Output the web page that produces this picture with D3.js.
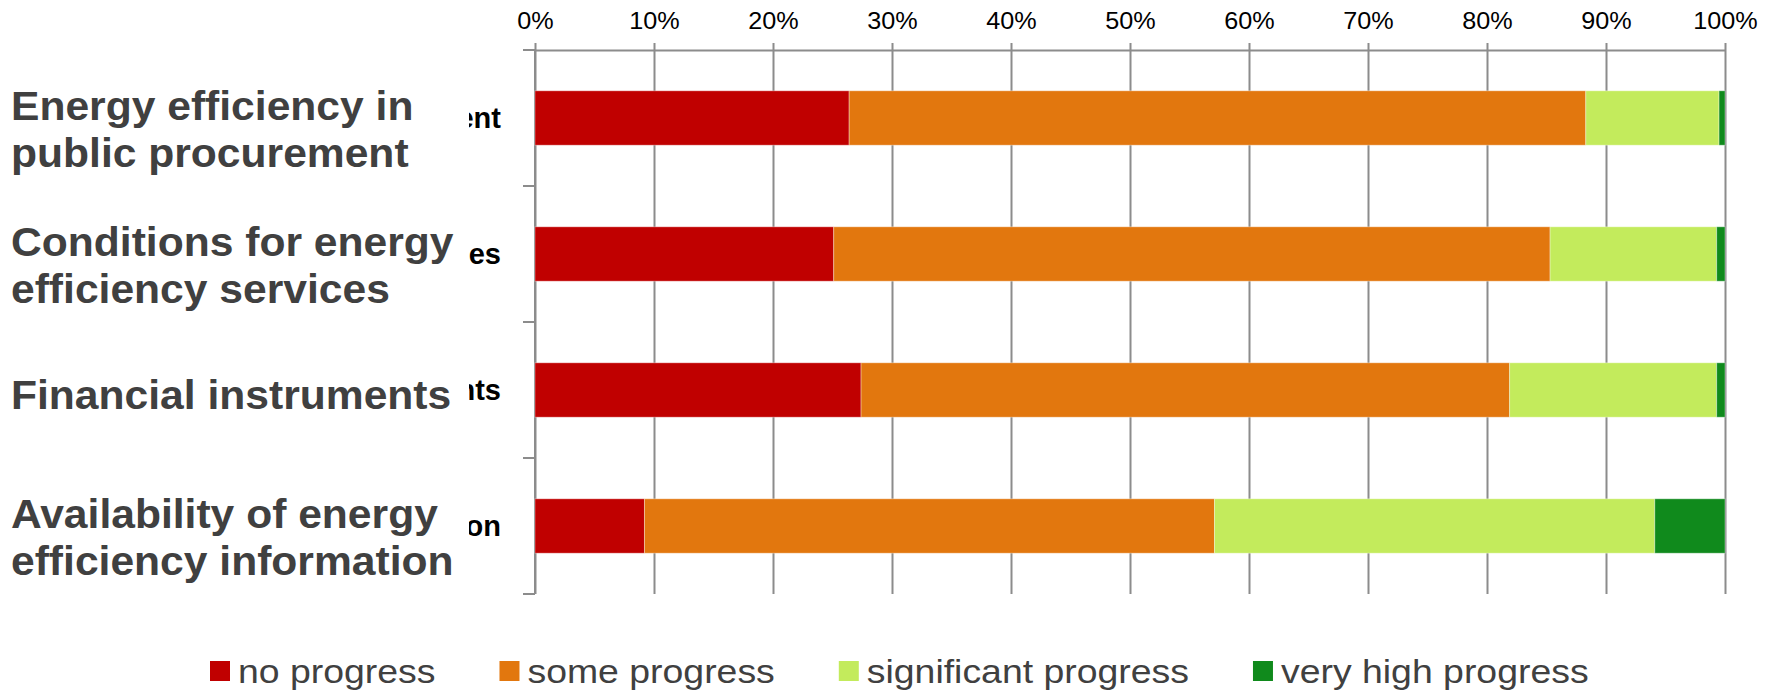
<!DOCTYPE html>
<html>
<head>
<meta charset="utf-8">
<script src="https://cdn.jsdelivr.net/npm/d3@7"></script>
<style>
  html, body { margin: 0; padding: 0; background: #fff; }
  svg { display: block; }
</style>
</head>
<body>
<script>
// ---------- data ----------
const categories = [
  "Energy efficiency in public procurement",
  "Conditions for energy efficiency services",
  "Financial instruments",
  "Availability of energy efficiency information"
];
const overlayLabels = [
  ["Energy efficiency in", "public procurement"],
  ["Conditions for energy", "efficiency services"],
  ["Financial instruments"],
  ["Availability of energy", "efficiency information"]
];
const seriesNames = ["no progress", "some progress", "significant progress", "very high progress"];
const noProgress          = [26.4, 25.1, 27.4, 9.2];
const someProgress        = [61.9, 60.2, 54.5, 47.9];
const significantProgress = [11.2, 14.0, 17.4, 37.0];
const veryHighProgress    = [0.5, 0.7, 0.7, 5.9];
const tickValues = [0, 10, 20, 30, 40, 50, 60, 70, 80, 90, 100];
const tickLabels = ["0%", "10%", "20%", "30%", "40%", "50%", "60%", "70%", "80%", "90%", "100%"];
const colors = ["#C00000", "#E2770E", "#C3EB5C", "#108A1C"];

// ---------- setup ----------
const W = 1773, H = 692;
const svg = d3.select("body").append("svg").attr("width", W).attr("height", H);

const x = d3.scaleLinear().domain([0, 100]).range([535, 1725]);
const y = d3.scaleBand().domain(categories).range([50, 594]).paddingInner(0.6).paddingOuter(0.3);
const color = d3.scaleOrdinal().domain(seriesNames).range(colors);

const rows = categories.map((c, i) => ({
  cat: c,
  [seriesNames[0]]: noProgress[i],
  [seriesNames[1]]: someProgress[i],
  [seriesNames[2]]: significantProgress[i],
  [seriesNames[3]]: veryHighProgress[i]
}));
const stacked = d3.stack().keys(seriesNames)(rows);

const gridColor = "#8C8C8C";
const font = "'Liberation Sans', Arial, sans-serif";

// ---------- gridlines + top axis ----------
const gx = svg.append("g").attr("transform", "translate(0,50)");
const topAxis = d3.axisTop(x).tickValues(tickValues)
  .tickFormat((d, i) => tickLabels[i]).tickSizeInner(7).tickSizeOuter(0).tickPadding(0);
gx.call(topAxis);
gx.select(".domain").attr("stroke", gridColor).attr("stroke-width", 2);
gx.selectAll(".tick line").attr("stroke", gridColor).attr("stroke-width", 2)
  .attr("y1", y.range()[1] - 50);
gx.selectAll(".tick text").remove();
gx.selectAll(".tick").append("text")
  .attr("transform", "translate(0,-21) scale(1.05,1)")
  .attr("text-anchor", "middle")
  .attr("font-family", font).attr("font-size", 24).attr("fill", "#000")
  .text((d, i) => tickLabels[i]);

// ---------- left axis (band boundary ticks) ----------
const step = y.step();
const bounds = categories.map(c => y(c) - step * y.paddingInner() / 2)
  .concat([y(categories[categories.length - 1]) + y.bandwidth() + step * y.paddingInner() / 2]);
const gy = svg.append("g");
gy.append("line").attr("x1", x(0)).attr("x2", x(0))
  .attr("y1", bounds[0]).attr("y2", bounds[bounds.length - 1])
  .attr("stroke", gridColor).attr("stroke-width", 2);
gy.selectAll("line.bt").data(bounds).join("line").attr("class", "bt")
  .attr("x1", x(0) - 12).attr("x2", x(0)).attr("y1", d => d).attr("y2", d => d)
  .attr("stroke", gridColor).attr("stroke-width", 2);

// ---------- bars ----------
svg.append("g").selectAll("g").data(stacked).join("g")
  .attr("fill", d => color(d.key))
  .selectAll("rect").data(d => d).join("rect")
  .attr("x", d => x(d[0]))
  .attr("width", d => x(d[1]) - x(d[0]))
  .attr("y", d => y(d.data.cat))
  .attr("height", y.bandwidth())
  .attr("stroke", "#fff").attr("stroke-opacity", 0.35).attr("stroke-width", 1);

// ---------- original (black) category labels, mostly covered ----------
svg.append("defs").append("clipPath").attr("id", "labclip")
  .append("rect").attr("x", 469).attr("y", 0).attr("width", 65).attr("height", H);
svg.append("g").attr("clip-path", "url(#labclip)")
  .selectAll("text").data(categories).join("text")
  .attr("transform", d => `translate(501,${y(d) + y.bandwidth() / 2 + 10})`)
  .attr("text-anchor", "end")
  .attr("font-family", font).attr("font-weight", "bold").attr("font-size", 29).attr("fill", "#000")
  .text(d => d);

// ---------- overlay (grey) category labels ----------
const lineH = 47;
const og = svg.append("g");
categories.forEach((c, i) => {
  const lines = overlayLabels[i];
  const cy = y(c) + y.bandwidth() / 2;
  const first = cy + 19 - (lines.length - 1) * 17;
  lines.forEach((t, j) => {
    og.append("text")
      .attr("transform", `translate(11,${first + j * lineH}) scale(1.065,1)`)
      .attr("font-family", font).attr("font-weight", "bold").attr("font-size", 40)
      .attr("fill", "#404040").text(t);
  });
});

// ---------- legend ----------
const lg = svg.append("g");
let lx = 210;
const legScale = 1.1;
seriesNames.forEach((s, i) => {
  lg.append("rect").attr("x", lx).attr("y", 661).attr("width", 20).attr("height", 20).attr("fill", colors[i]);
  const t = lg.append("text")
    .attr("transform", `translate(${lx + 28},683) scale(${legScale},1)`)
    .attr("font-family", font).attr("font-size", 34).attr("fill", "#404040").text(s);
  const w = t.node().getComputedTextLength() * legScale;
  lx = lx + 28 + w + 64;
});
</script>
</body>
</html>
